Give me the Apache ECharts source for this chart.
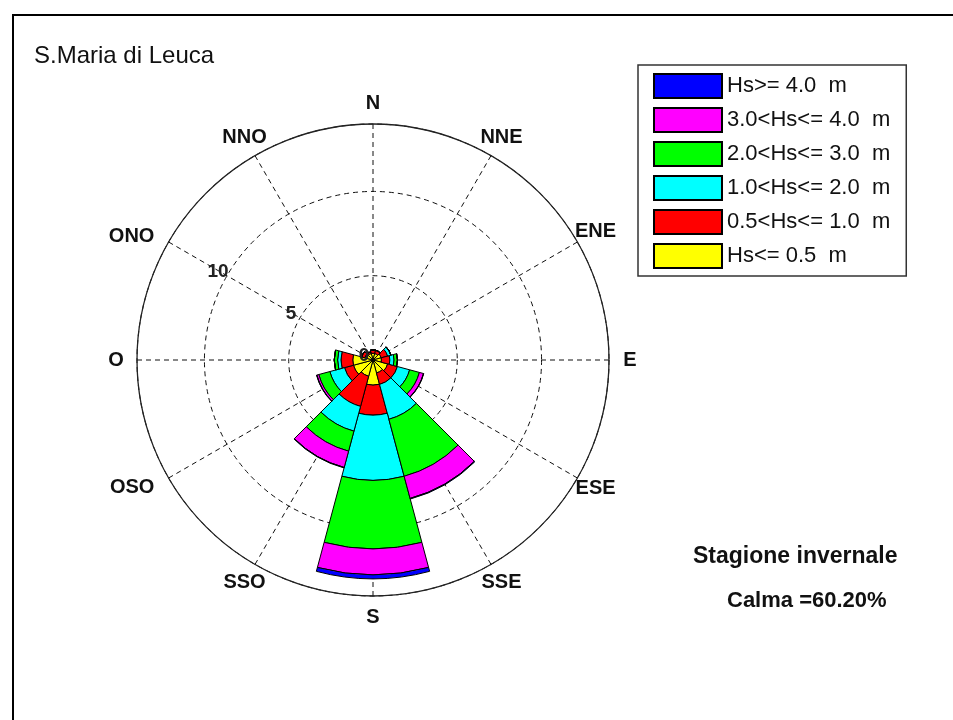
<!DOCTYPE html>
<html>
<head>
<meta charset="utf-8">
<script src="https://cdn.jsdelivr.net/npm/echarts@6/dist/echarts.min.js"></script>
<style>
html,body{margin:0;padding:0;background:#fff;}
#chart{width:953px;height:720px;}
</style>
</head>
<body>
<div id="chart"></div>
<script>
// Compass sectors (12 sectors of 30 degrees, clockwise from North)
const directions = ['N','NNE','ENE','E','ESE','SSE','S','SSO','OSO','O','ONO','NNO'];
// Radius tick labels (%), drawn along the ONO spoke
const radiusLabels = [0, 5, 10];

// Frequencies (%) per class, per direction
const hsLe05   = [0.4, 0.4, 0.5, 0.5, 0.9, 0.8, 1.49, 1.0, 1.2, 1.2, 0.5, 0.4];
const hs05to10 = [0.2, 0.2, 0.4, 0.5, 0.6, 0.7, 1.78, 1.85, 0.55, 0.7, 0.2, 0.1];
const hs10to20 = [0, 0, 0.2, 0.25, 0.75, 2.14, 3.87, 1.52, 0.9, 0.2, 0, 0];
const hs20to30 = [0, 0, 0, 0.2, 0.6, 3.5, 4.06, 1.23, 0.68, 0.2, 0, 0];
const hs30to40 = [0, 0, 0, 0, 0.25, 1.36, 1.54, 1.0, 0.12, 0, 0, 0];
const hsGe40   = [0, 0, 0, 0, 0.02, 0.04, 0.24, 0.03, 0.02, 0, 0, 0];

const classNames = ['Hs<= 0.5  m','0.5<Hs<= 1.0  m','1.0<Hs<= 2.0  m','2.0<Hs<= 3.0  m','3.0<Hs<= 4.0  m','Hs>= 4.0  m'];
const classColors = ['#ffff00','#ff0000','#00ffff','#00ff00','#ff00ff','#0000ff'];
const classData = [hsLe05, hs05to10, hs10to20, hs20to30, hs30to40, hsGe40];

// labels that the original draws right-aligned against the rim (with their nudge)
const rightAlignedLabels = { ONO: [4, 5], OSO: [4, -1] };

const radiusMax = 14;
const radiusTickStep = 5;

const FONT = '"Liberation Sans", Arial, sans-serif';

const chart = echarts.init(document.getElementById('chart'), null, {renderer:'canvas'});

const series = classNames.map((name, i) => ({
  type: 'bar',
  name: name,
  coordinateSystem: 'polar',
  polarIndex: 1,
  stack: 'total',
  data: classData[i],
  barCategoryGap: '0%',
  itemStyle: { color: classColors[i], borderColor: '#000', borderWidth: 1 },
  emphasis: { disabled: true },
  silent: true
}));

// Compass labels, just outside the rim
series.push({
  type: 'scatter',
  coordinateSystem: 'polar',
  polarIndex: 2,
  symbolSize: 0,
  silent: true,
  z: 10,
  itemStyle: { opacity: 1 },
  data: directions.map(d => rightAlignedLabels[d]
    ? { value: [1, d], label: { align: 'right', offset: rightAlignedLabels[d] } }
    : { value: [1, d] }),
  label: {
    show: true, position: 'inside',
    fontFamily: FONT, fontSize: 20, fontWeight: 'bold', color: '#111',
    formatter: p => p.value[1]
  }
});

// Radius labels along the ONO spoke
series.push({
  type: 'scatter',
  coordinateSystem: 'polar',
  polarIndex: 0,
  symbolSize: 0,
  silent: true,
  z: 10,
  itemStyle: { opacity: 1 },
  data: radiusLabels.map(v => [v, 0]),
  label: {
    show: true, position: 'inside', offset: [-9, -4],
    fontFamily: FONT, fontSize: 19, fontWeight: 'bold', color: '#222',
    formatter: p => String(p.value[0])
  }
});

const option = {
  backgroundColor: '#fff',
  animation: false,
  title: [
    { text: 'S.Maria di Leuca', left: 34, top: 44, padding: 0,
      textStyle: { fontFamily: FONT, fontSize: 24, fontWeight: 'normal', color: '#111' } },
    { text: 'Stagione invernale', left: 693, top: 545, padding: 0,
      textStyle: { fontFamily: FONT, fontSize: 23, fontWeight: 'bold', color: '#111' } },
    { text: 'Calma =60.20%', left: 727, top: 590, padding: 0,
      textStyle: { fontFamily: FONT, fontSize: 22, fontWeight: 'bold', color: '#111' } }
  ],
  legend: {
    data: classNames.slice().reverse(),
    orient: 'vertical',
    left: 638,
    top: 65,
    itemWidth: 68,
    itemHeight: 24,
    itemGap: 8,
    padding: [8, 16, 7, 15],
    borderColor: '#333',
    borderWidth: 1.5,
    icon: 'rect',
    selectedMode: false,
    textStyle: { fontFamily: FONT, fontSize: 22, lineHeight: 24, color: '#111' }
  },
  polar: [
    { center: [373, 360], radius: 236 },
    { center: [373, 360], radius: 236 },
    { center: [373, 360], radius: 257 }
  ],
  angleAxis: [
    {
      polarIndex: 0,
      type: 'value',
      min: 0, max: 360, interval: 30,
      startAngle: 150,
      clockwise: true,
      axisLine: { show: true, lineStyle: { color: '#222', width: 1.3 } },
      axisTick: { show: false },
      axisLabel: { show: false },
      splitLine: { show: true, lineStyle: { color: '#111', type: [5, 4], width: 1 } }
    },
    {
      polarIndex: 1,
      type: 'category',
      data: directions,
      startAngle: 105,
      clockwise: true,
      axisLine: { show: false },
      axisTick: { show: false },
      axisLabel: { show: false },
      splitLine: { show: false }
    },
    {
      polarIndex: 2,
      type: 'category',
      data: directions,
      startAngle: 105,
      clockwise: true,
      axisLine: { show: false },
      axisTick: { show: false },
      axisLabel: { show: false },
      splitLine: { show: false }
    }
  ],
  radiusAxis: [
    {
      polarIndex: 0,
      type: 'value',
      min: 0, max: radiusMax, interval: radiusTickStep,
      axisLine: { show: false },
      axisTick: { show: false },
      axisLabel: { show: false },
      splitLine: { show: true, lineStyle: { color: '#111', type: [5, 4], width: 1 } }
    },
    {
      polarIndex: 1,
      type: 'value',
      min: 0, max: radiusMax,
      axisLine: { show: false },
      axisTick: { show: false },
      axisLabel: { show: false },
      splitLine: { show: false }
    },
    {
      polarIndex: 2,
      type: 'value',
      min: 0, max: 1,
      axisLine: { show: false },
      axisTick: { show: false },
      axisLabel: { show: false },
      splitLine: { show: false }
    }
  ],
  graphic: [
    { type: 'rect', silent: true, z: 100,
      shape: { x: 13, y: 15, width: 1000, height: 1000 },
      style: { fill: null, stroke: '#000', lineWidth: 2 } }
  ],
  series: series
};

chart.setOption(option);
</script>
</body>
</html>
